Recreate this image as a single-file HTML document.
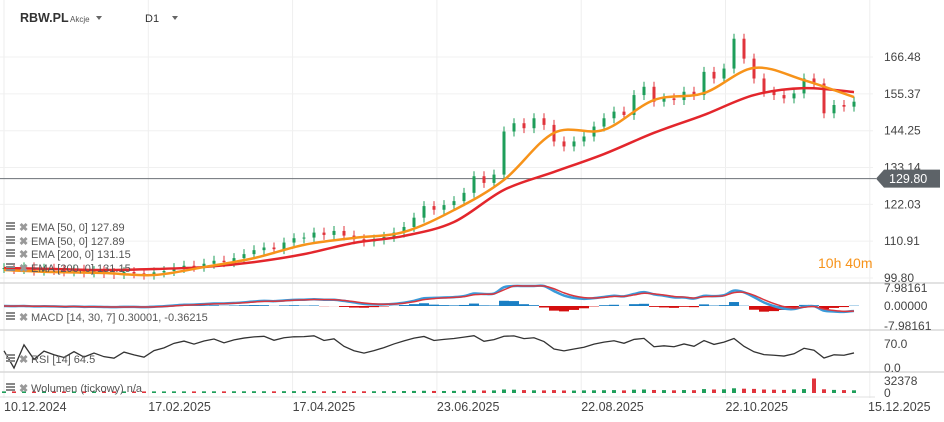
<!DOCTYPE html>
<html><head><meta charset="utf-8">
<style>
body{margin:0;background:#fff;font-family:"Liberation Sans",sans-serif;}
#c{position:relative;width:944px;height:422px;overflow:hidden;}
svg text{font-family:"Liberation Sans",sans-serif;}
</style></head>
<body><div id="c">
<svg id="s" width="944" height="422"></svg>
</div>
<script>
const closes=[102.8,102.5,103.0,102.0,102.6,102.2,101.8,102.3,101.5,101.9,101.3,101.0,101.6,101.2,100.8,101.5,101.9,102.8,103.5,103.2,104.1,105.0,104.6,105.8,107.0,108.2,109.0,108.5,110.5,111.8,112.0,113.5,112.8,114.0,112.6,111.5,110.8,111.4,112.2,113.5,115.2,118.0,121.5,120.4,121.8,123.0,125.5,130.5,128.5,131.0,144.0,146.5,145.0,148.0,146.0,141.0,139.5,141.0,142.5,145.5,148.0,150.0,149.0,155.0,157.5,153.0,154.0,153.5,156.0,155.0,162.0,160.0,163.0,172.0,166.0,160.0,156.0,155.0,154.0,155.5,160.0,158.5,149.5,152.0,151.5,153.0];
const ema200=[102.8,102.5,102.2,102.5,103.1,104.6,107.0,110.4,112.5,116.7,126.4,131.8,137.2,143.6,149.0,155.0,157.1,155.9];
const ema50=[102.2,101.6,101.3,100.7,103.1,105.8,109.8,111.9,113.7,120.3,129.4,143.6,144.5,153.5,155.6,163.2,159.5,154.4];
const volumes=[300,200,250,150,300,200,250,180,220,300,150,200,260,180,220,300,250,400,350,300,450,500,400,600,550,700,650,500,800,900,700,850,600,900,700,650,600,700,800,900,1200,1500,1800,1400,1300,1600,2200,3000,2500,2800,5000,4500,3500,3000,2800,3500,2600,2400,2800,3000,3200,3500,2800,4500,5000,3800,3500,3000,3600,3300,6000,5000,5500,8000,7000,6500,5000,4500,4000,5200,6000,32378,5500,4000,3500,3000];
const priceTicks=["166.48","155.37","144.25","133.14","122.03","110.91","99.80"];
const dateTicks=["10.12.2024","17.02.2025","17.04.2025","23.06.2025","22.08.2025","22.10.2025","15.12.2025"];
const lastPrice=129.80;

const S=document.getElementById('s');const NS='http://www.w3.org/2000/svg';
function mk(t,a,p){const e=document.createElementNS(NS,t);for(const k in a)e.setAttribute(k,a[k]);(p||S).appendChild(e);return e;}
const xi=i=>4+i*10;
const yP=p=>278-(p-99.80)*3.314;
const tickVals=priceTicks.map(Number);
dateTicks.forEach((d,k)=>{const x=4+k*144.3;const l=mk('line',{x1:x,x2:x,y1:0,y2:398,stroke:'#eeeeee'});});
tickVals.forEach(v=>{const l=mk('line',{x1:0,x2:873,y1:yP(v),y2:yP(v),stroke:'#f0f0f0'});});
[283,330,372].forEach(y=>{const l=mk('line',{x1:0,x2:944,y1:y,y2:y,stroke:'#d8d8d8','stroke-width':1.5});});
mk('line',{x1:0,x2:875,y1:397,y2:397,stroke:'#e0e0e0'});
const lp=mk('line',{x1:0,x2:876,y1:yP(lastPrice),y2:yP(lastPrice),stroke:'#6b7176','stroke-width':1});

closes.forEach((c,i)=>{const o=i?closes[i-1]:c;const up=c>=o;const col=up?'#1e9e5a':'#e0343c';const x=xi(i);
const hi=Math.max(o,c)+1.5,lo=Math.min(o,c)-1.5;
const w=mk('line',{x1:x,x2:x,y1:yP(hi),y2:yP(lo),stroke:col,'stroke-width':1});

const r=mk('rect',{x:x-1.5,y:yP(Math.max(o,c)),width:3,height:Math.max(1,Math.abs(yP(o)-yP(c))),fill:col});
});
function smooth(pts){let d='M'+pts[0][0]+' '+pts[0][1];for(let i=0;i<pts.length-1;i++){const p0=pts[i-1]||pts[i],p1=pts[i],p2=pts[i+1],p3=pts[i+2]||p2;
d+=` C${p1[0]+(p2[0]-p0[0])/6} ${p1[1]+(p2[1]-p0[1])/6} ${p2[0]-(p3[0]-p1[0])/6} ${p2[1]-(p3[1]-p1[1])/6} ${p2[0]} ${p2[1]}`;}return d;}
function line(arr,step,col,w,name){const pts=arr.map((v,k)=>[xi(k*step),yP(v)]);const p=mk('path',{d:smooth(pts),fill:'none',stroke:col,'stroke-width':w});}
line(ema200,5,'#e3262c',2.5,'ema-200-line');
line(ema50,5,'#f7931a',2.5,'ema-50-line');
function ema(a,n){const al=2/(n+1);let r=[],e=a[0];a.forEach(v=>{e=al*v+(1-al)*e;r.push(e);});return r;}
const ef=ema(closes,5),es=ema(closes,10);const macd=ef.map((v,i)=>v-es[i]);const sig=ema(macd,2.3);
const yM=v=>Math.max(286,Math.min(327,306-v*3.5));
macd.forEach((m,i)=>{const h=(m-sig[i])*2;const r=mk('rect',{x:xi(i)-5,y:Math.min(yM(h),306),width:10,height:Math.abs(yM(h)-306),fill:h>=0?'#1a7fc4':'#d40e0e'});});
function pl(arr,f,col,w,name){const pts=arr.map((v,i)=>[xi(i),f(v)]);const p=mk('path',{d:smooth(pts),fill:'none',stroke:col,'stroke-width':w});}
pl(macd,yM,'#3a9ad9',2.5,'macd-line');
pl(sig,yM,'#d9363e',1.5,'macd-signal-line');
let ag=0,al2=0;const rsi=[];closes.forEach((c,i)=>{const d=i?c-closes[i-1]:0;ag=(ag*4+Math.max(d,0))/5;al2=(al2*4+Math.max(-d,0))/5;rsi.push(al2+ag===0?50:100*ag/(ag+al2));});
const yR=v=>Math.max(335,368-v*24/70);
const rp=mk('polyline',{points:rsi.map((v,i)=>xi(i)+','+yR(v)).join(' '),fill:'none',stroke:'#333','stroke-width':1.3});

const yV=v=>393-v*13/32378;
volumes.forEach((v,i)=>{const up=i?closes[i]>=closes[i-1]:true;const r=mk('rect',{x:xi(i)-2,y:yV(v)-1.5,width:4,height:393-yV(v)+1.5,fill:up?'#1e9e5a':'#e0343c'});});
function txt(x,y,s,o){const t=mk('text',Object.assign({x:x,y:y,'font-size':12,fill:'#444'},o||{}));t.textContent=s;return t;}
priceTicks.forEach(v=>{const t=txt(884,yP(+v)+4,v);});
[["7.98161",292],["0.00000",310],["-7.98161",330],["70.0",348],["0.0",372],["32378",385],["0",397]].forEach(a=>{const t=txt(884,a[1],a[0]);});
dateTicks.forEach((d,k)=>{const t=txt(k==6?868:4+k*144.3,411,d,{'font-size':12.5});});
const yl=yP(lastPrice);
const b=mk('path',{d:`M876 ${yl} L884 ${yl-9} H940 V${yl+9} H884 Z`,fill:'#5d6368'});
const bt=txt(889,yl+4.5,'129.80',{fill:'#fff','font-size':12.5});
const h1=txt(20,22,'RBW.PL',{'font-size':12.5,'font-weight':'bold',fill:'#333'});
txt(70,22,'Akcje',{'font-size':8,fill:'#555'});
mk('path',{d:'M96 16 h6 l-3 4 z',fill:'#666'});
const tf=txt(145,22,'D1',{'font-size':11,fill:'#333'});
mk('path',{d:'M172 16 h6 l-3 4 z',fill:'#666'});
const cd=txt(818,268,'10h 40m',{'font-size':14,fill:'#f7931a'});
function leg(y,s){const g=mk('g',{});
mk('rect',{x:6,y:y-8,width:9,height:2,fill:'#888'},g);mk('rect',{x:6,y:y-5,width:9,height:2,fill:'#888'},g);mk('rect',{x:6,y:y-2,width:9,height:2,fill:'#888'},g);
const t=mk('text',{x:19,y:y+1,'font-size':11,fill:'#999','font-weight':'bold'},g);t.textContent='✖';
const t2=mk('text',{x:31,y:y+1,'font-size':11,fill:'#555'},g);t2.textContent=s;}
leg(230,'EMA  [50,  0] 127.89');leg(244,'EMA  [50,  0] 127.89');leg(257,'EMA  [200,  0] 131.15');leg(271,'EMA  [200,  0] 131.15');
leg(320,'MACD  [14,  30, 7]  0.30001,  -0.36215');leg(362,'RSI  [14]  64.5');leg(391,'Wolumen  (tickowy)  n/a');
</script>
</body></html>
